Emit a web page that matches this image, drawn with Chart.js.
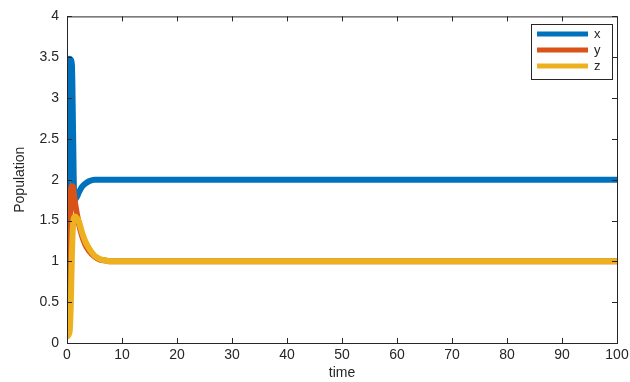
<!DOCTYPE html>
<html>
<head>
<meta charset="utf-8">
<script src="https://cdn.jsdelivr.net/npm/chart.js@4"></script>
<style>
  html, body { margin: 0; padding: 0; background: #fff; }
  #wrap { width: 630px; height: 382px; }
</style>
</head>
<body>
<div id="wrap"><canvas id="grafica"></canvas></div>
<script>
// values
var time = [0, 0.1, 0.2, 0.3, 0.5, 0.7, 0.9, 1.1, 1.3, 1.5, 1.8, 2.2, 2.7, 3.3, 4, 5, 6, 7, 8, 10, 20, 40, 60, 80, 100];
var xVals = [0.1, 1.6, 3.1, 3.45, 3.48, 3.47, 3.4, 2.6, 1.8, 1.76, 1.79, 1.85, 1.91, 1.95, 1.98, 2.0, 2.0, 2.0, 2.0, 2.0, 2.0, 2.0, 2.0, 2.0, 2.0];
var yVals = [0.1, 0.3, 0.7, 1.1, 1.5, 1.85, 1.92, 1.9, 1.8, 1.7, 1.58, 1.45, 1.32, 1.21, 1.13, 1.06, 1.02, 1.01, 1.0, 1.0, 1.0, 1.0, 1.0, 1.0, 1.0];
var zVals = [0.08, 0.08, 0.09, 0.1, 0.15, 0.5, 1.1, 1.45, 1.54, 1.55, 1.53, 1.48, 1.36, 1.25, 1.16, 1.07, 1.03, 1.01, 1.0, 1.0, 1.0, 1.0, 1.0, 1.0, 1.0];
var seriesNames = ["x", "y", "z"];
var xTicks = [0, 10, 20, 30, 40, 50, 60, 70, 80, 90, 100];
var yTicks = [0, 0.5, 1, 1.5, 2, 2.5, 3, 3.5, 4];

var colores = ["#0072BD", "#D95319", "#EDB120"];
var ink = "#262626";
var fuente = "'Liberation Sans', Arial, sans-serif";

function puntos(vals) {
	return time.map(function(t, i) { return { x: t, y: vals[i] }; });
}

// box, inward ticks and legend like the matlab figure
var cajaPlugin = {
	id: "caja",
	afterDraw: function(chart) {
		var c = chart.ctx, a = chart.chartArea;
		var sx = chart.scales.x, sy = chart.scales.y;
		c.save();
		c.strokeStyle = ink;
		c.lineWidth = 1;
		c.strokeRect(a.left + 0.5, a.top + 0.5, a.right - a.left, a.bottom - a.top);
		c.beginPath();
		xTicks.forEach(function(v) {
			var px = Math.round(sx.getPixelForValue(v)) + 0.5;
			c.moveTo(px, a.bottom); c.lineTo(px, a.bottom - 5);
			c.moveTo(px, a.top); c.lineTo(px, a.top + 5);
		});
		yTicks.forEach(function(v) {
			var py = Math.round(sy.getPixelForValue(v)) + 0.5;
			c.moveTo(a.left, py); c.lineTo(a.left + 5, py);
			c.moveTo(a.right, py); c.lineTo(a.right - 5, py);
		});
		c.stroke();

		// legend
		var lx = 531, ly = 24, lw = 81, lh = 55;
		c.fillStyle = "#fff";
		c.fillRect(lx, ly, lw, lh);
		c.strokeStyle = ink;
		c.strokeRect(lx + 0.5, ly + 0.5, lw, lh);
		c.font = "13px " + fuente;
		c.textBaseline = "middle";
		seriesNames.forEach(function(n, i) {
			var yy = ly + 10 + i * 16;
			c.strokeStyle = colores[i];
			c.lineWidth = 5;
			c.beginPath();
			c.moveTo(lx + 6, yy); c.lineTo(lx + 57, yy);
			c.stroke();
			c.fillStyle = ink;
			c.fillText(n, lx + 63, yy);
		});
		c.restore();
	}
};

var datos = {
	datasets: [
		{ label: seriesNames[0], data: puntos(xVals), borderColor: colores[0], order: 2 },
		{ label: seriesNames[1], data: puntos(yVals), borderColor: colores[1], order: 1 },
		{ label: seriesNames[2], data: puntos(zVals), borderColor: colores[2], order: 0 }
	].map(function(d) {
		d.borderWidth = 6;
		d.pointRadius = 0;
		d.fill = false;
		d.cubicInterpolationMode = "monotone";
		d.borderCapStyle = "round";
		d.borderJoinStyle = "round";
		return d;
	})
};

new Chart(document.getElementById("grafica"), {
	type: "line",
	data: datos,
	options: {
		responsive: true,
		maintainAspectRatio: false,
		animation: false,
		events: [],
		layout: { padding: { top: 15, right: 13, left: 0, bottom: 0 } },
		plugins: { legend: { display: false }, tooltip: { enabled: false } },
		scales: {
			x: {
				type: "linear",
				min: 0, max: 100,
				afterBuildTicks: function(s) { s.ticks = xTicks.map(function(v) { return { value: v }; }); },
				afterFit: function(s) { s.height = 39; s.paddingLeft = 0; s.paddingRight = 0; },
				grid: { display: false, drawTicks: false },
				border: { display: false },
				ticks: { color: ink, padding: 4, maxRotation: 0, font: { family: fuente, size: 14 },
					callback: function(v) { return String(v); } },
				title: { display: true, text: "time", color: ink, padding: { top: 0, bottom: 0 }, font: { family: fuente, size: 14 } }
			},
			y: {
				type: "linear",
				min: 0, max: 4,
				afterBuildTicks: function(s) { s.ticks = yTicks.map(function(v) { return { value: v }; }); },
				afterFit: function(s) { s.width = 67; },
				grid: { display: false, drawTicks: false },
				border: { display: false },
				ticks: { color: ink, padding: 8, font: { family: fuente, size: 14 },
					callback: function(v) { return String(v); } },
				title: { display: true, text: "Population", color: ink, padding: { top: 12, bottom: 0 }, font: { family: fuente, size: 14 } }
			}
		}
	},
	plugins: [cajaPlugin]
});
</script>
</body>
</html>
